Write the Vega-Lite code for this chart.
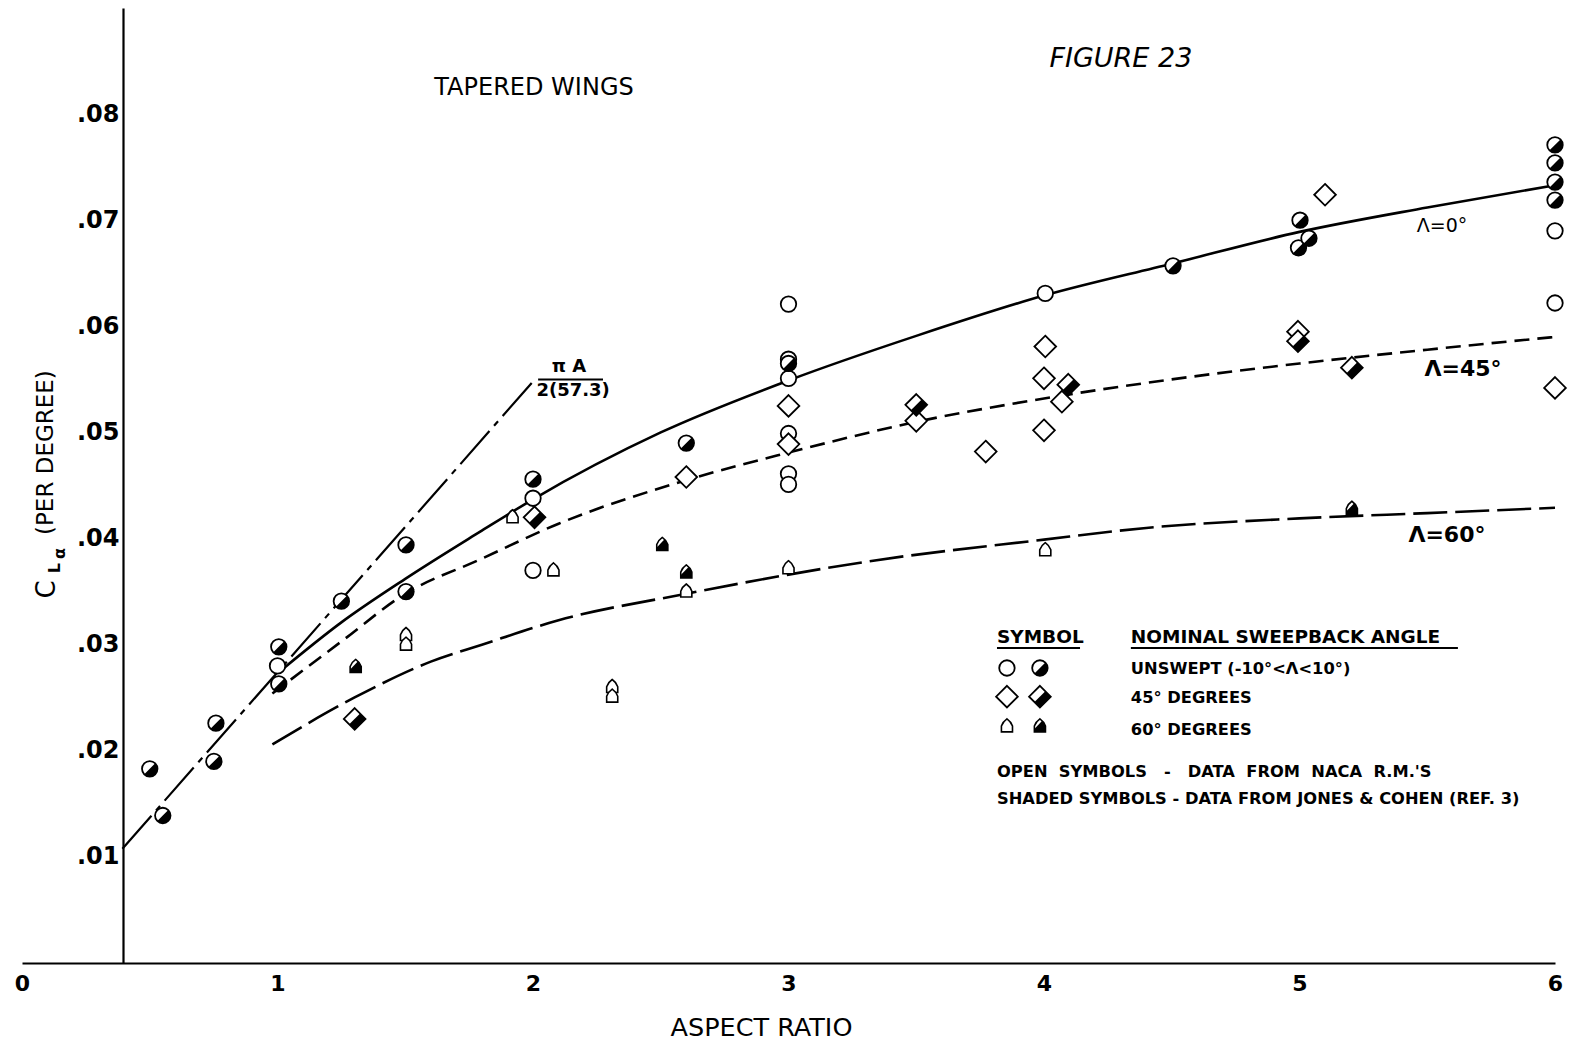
{
  "$schema": "https://vega.github.io/schema/vega-lite/v6.json",
  "width": 1533,
  "height": 955,
  "autosize": {"type": "none"},
  "padding": {"left": 22, "top": 8, "right": 21, "bottom": 80},
  "background": "white",
  "config": {"view": {"stroke": null}, "font": "DejaVu Sans"},
  "datasets": {
    "theory": [
      {"a": 0.393, "v": 0.01077},
      {"a": 2.0, "v": 0.0548}
    ],
    "curves": [
      {"curve": "L0", "a": 1.01, "v": 0.0275},
      {"curve": "L0", "a": 1.25, "v": 0.0321},
      {"curve": "L0", "a": 1.5, "v": 0.0362},
      {"curve": "L0", "a": 1.79, "v": 0.0406},
      {"curve": "L0", "a": 2.0, "v": 0.0437},
      {"curve": "L0", "a": 2.5, "v": 0.05},
      {"curve": "L0", "a": 3.0, "v": 0.0549},
      {"curve": "L0", "a": 3.5, "v": 0.0591},
      {"curve": "L0", "a": 4.0, "v": 0.0629},
      {"curve": "L0", "a": 4.5, "v": 0.0659},
      {"curve": "L0", "a": 5.0, "v": 0.0689},
      {"curve": "L0", "a": 5.5, "v": 0.0712},
      {"curve": "L0", "a": 6.0, "v": 0.0733},
      {"curve": "L45", "a": 0.98, "v": 0.0254},
      {"curve": "L45", "a": 1.25, "v": 0.0303},
      {"curve": "L45", "a": 1.5, "v": 0.0348},
      {"curve": "L45", "a": 1.79, "v": 0.038},
      {"curve": "L45", "a": 2.1, "v": 0.0414},
      {"curve": "L45", "a": 2.6, "v": 0.0455},
      {"curve": "L45", "a": 3.0, "v": 0.0481},
      {"curve": "L45", "a": 3.5, "v": 0.051},
      {"curve": "L45", "a": 4.0, "v": 0.0532},
      {"curve": "L45", "a": 4.5, "v": 0.055},
      {"curve": "L45", "a": 5.0, "v": 0.0565},
      {"curve": "L45", "a": 5.5, "v": 0.0578},
      {"curve": "L45", "a": 6.0, "v": 0.059},
      {"curve": "L60", "a": 0.98, "v": 0.0206},
      {"curve": "L60", "a": 1.3, "v": 0.025},
      {"curve": "L60", "a": 1.6, "v": 0.0284},
      {"curve": "L60", "a": 1.8, "v": 0.03},
      {"curve": "L60", "a": 2.1, "v": 0.0323},
      {"curve": "L60", "a": 2.6, "v": 0.0348},
      {"curve": "L60", "a": 3.0, "v": 0.0366},
      {"curve": "L60", "a": 3.3, "v": 0.0378},
      {"curve": "L60", "a": 4.0, "v": 0.0399},
      {"curve": "L60", "a": 4.4, "v": 0.041},
      {"curve": "L60", "a": 5.0, "v": 0.0419},
      {"curve": "L60", "a": 5.5, "v": 0.0424},
      {"curve": "L60", "a": 6.0, "v": 0.0429}
    ],
    "points": [
      {"kind": "circle", "src": "open", "a": 1.0, "v": 0.028},
      {"kind": "circle", "src": "open", "a": 2.0, "v": 0.0438},
      {"kind": "circle", "src": "open", "a": 2.0, "v": 0.037},
      {"kind": "circle", "src": "open", "a": 3.0, "v": 0.0621},
      {"kind": "circle", "src": "open", "a": 3.0, "v": 0.0569},
      {"kind": "circle", "src": "open", "a": 3.0, "v": 0.0551},
      {"kind": "circle", "src": "open", "a": 3.0, "v": 0.0499},
      {"kind": "circle", "src": "open", "a": 3.0, "v": 0.0461},
      {"kind": "circle", "src": "open", "a": 3.0, "v": 0.0451},
      {"kind": "circle", "src": "open", "a": 4.005, "v": 0.0631},
      {"kind": "circle", "src": "open", "a": 6.0, "v": 0.069},
      {"kind": "circle", "src": "open", "a": 6.0, "v": 0.0622},
      {"kind": "circle", "src": "shaded", "a": 0.5, "v": 0.0183},
      {"kind": "circle", "src": "shaded", "a": 0.551, "v": 0.0139},
      {"kind": "circle", "src": "shaded", "a": 0.759, "v": 0.0226},
      {"kind": "circle", "src": "shaded", "a": 0.751, "v": 0.019},
      {"kind": "circle", "src": "shaded", "a": 1.005, "v": 0.0298},
      {"kind": "circle", "src": "shaded", "a": 1.005, "v": 0.0263},
      {"kind": "circle", "src": "shaded", "a": 1.25, "v": 0.0341},
      {"kind": "circle", "src": "shaded", "a": 1.503, "v": 0.0394},
      {"kind": "circle", "src": "shaded", "a": 1.503, "v": 0.035},
      {"kind": "circle", "src": "shaded", "a": 2.0, "v": 0.0456},
      {"kind": "circle", "src": "shaded", "a": 2.6, "v": 0.049},
      {"kind": "circle", "src": "shaded", "a": 3.0, "v": 0.0565},
      {"kind": "circle", "src": "shaded", "a": 4.505, "v": 0.0657},
      {"kind": "circle", "src": "shaded", "a": 5.002, "v": 0.07},
      {"kind": "circle", "src": "shaded", "a": 4.996, "v": 0.0674},
      {"kind": "circle", "src": "shaded", "a": 5.037, "v": 0.0683},
      {"kind": "circle", "src": "shaded", "a": 6.0, "v": 0.0771},
      {"kind": "circle", "src": "shaded", "a": 6.0, "v": 0.0754},
      {"kind": "circle", "src": "shaded", "a": 6.0, "v": 0.0736},
      {"kind": "circle", "src": "shaded", "a": 6.0, "v": 0.0719},
      {"kind": "diamond", "src": "open", "a": 2.6, "v": 0.0458},
      {"kind": "diamond", "src": "open", "a": 3.0, "v": 0.0525},
      {"kind": "diamond", "src": "open", "a": 3.0, "v": 0.0489},
      {"kind": "diamond", "src": "open", "a": 3.5, "v": 0.0511},
      {"kind": "diamond", "src": "open", "a": 3.772, "v": 0.0482},
      {"kind": "diamond", "src": "open", "a": 4.005, "v": 0.0581},
      {"kind": "diamond", "src": "open", "a": 4.0, "v": 0.0551},
      {"kind": "diamond", "src": "open", "a": 4.07, "v": 0.0529},
      {"kind": "diamond", "src": "open", "a": 4.0, "v": 0.0502},
      {"kind": "diamond", "src": "open", "a": 4.994, "v": 0.0595},
      {"kind": "diamond", "src": "open", "a": 5.1, "v": 0.0724},
      {"kind": "diamond", "src": "open", "a": 6.0, "v": 0.0542},
      {"kind": "diamond", "src": "shaded", "a": 1.302, "v": 0.023},
      {"kind": "diamond", "src": "shaded", "a": 2.006, "v": 0.042},
      {"kind": "diamond", "src": "shaded", "a": 3.5, "v": 0.0526},
      {"kind": "diamond", "src": "shaded", "a": 4.095, "v": 0.0545},
      {"kind": "diamond", "src": "shaded", "a": 4.994, "v": 0.0586},
      {"kind": "diamond", "src": "shaded", "a": 5.205, "v": 0.0561},
      {"kind": "house", "src": "open", "a": 1.92, "v": 0.0421},
      {"kind": "house", "src": "open", "a": 2.08, "v": 0.0371},
      {"kind": "house", "src": "open", "a": 1.503, "v": 0.031},
      {"kind": "house", "src": "open", "a": 1.503, "v": 0.0301},
      {"kind": "house", "src": "open", "a": 2.6, "v": 0.0351},
      {"kind": "house", "src": "open", "a": 2.31, "v": 0.0261},
      {"kind": "house", "src": "open", "a": 2.31, "v": 0.0252},
      {"kind": "house", "src": "open", "a": 3.0, "v": 0.0373},
      {"kind": "house", "src": "open", "a": 4.005, "v": 0.039},
      {"kind": "house", "src": "shaded", "a": 1.306, "v": 0.028},
      {"kind": "house", "src": "shaded", "a": 2.506, "v": 0.0395},
      {"kind": "house", "src": "shaded", "a": 2.6, "v": 0.0369},
      {"kind": "house", "src": "shaded", "a": 5.205, "v": 0.0429},
      {"kind": "circle", "src": "open", "a": 3.855, "v": 0.0278},
      {"kind": "circle", "src": "shaded", "a": 3.984, "v": 0.0278},
      {"kind": "diamond", "src": "open", "a": 3.855, "v": 0.0251},
      {"kind": "diamond", "src": "shaded", "a": 3.984, "v": 0.0251},
      {"kind": "house", "src": "open", "a": 3.855, "v": 0.0224},
      {"kind": "house", "src": "shaded", "a": 3.984, "v": 0.0224}
    ],
    "rules": [
      {"a": 3.816, "a2": 4.141, "v": 0.02969},
      {"a": 4.34, "a2": 5.62, "v": 0.02969},
      {"a": 2.02, "a2": 2.274, "v": 0.055}
    ],
    "labels": [
      {"a": 4.301, "v": 0.0852, "text": "FIGURE 23", "role": "fig"},
      {"a": 2.004, "v": 0.0825, "text": "TAPERED WINGS", "role": "head"},
      {"a": 2.141, "v": 0.0562, "text": "π A", "role": "frac"},
      {"a": 2.157, "v": 0.0539, "text": "2(57.3)", "role": "frac"},
      {"a": 5.558, "v": 0.0695, "text": "Λ=0°", "role": "lam0"},
      {"a": 5.64, "v": 0.056, "text": "Λ=45°", "role": "lam"},
      {"a": 5.577, "v": 0.0403, "text": "Λ=60°", "role": "lam"},
      {"a": 3.816, "v": 0.0307, "text": "SYMBOL", "role": "keyhead"},
      {"a": 4.34, "v": 0.0307, "text": "NOMINAL SWEEPBACK ANGLE", "role": "keyhead"},
      {"a": 4.34, "v": 0.0277, "text": "UNSWEPT (-10°<Λ<10°)", "role": "key"},
      {"a": 4.34, "v": 0.025, "text": "45° DEGREES", "role": "key"},
      {"a": 4.34, "v": 0.022, "text": "60° DEGREES", "role": "key"},
      {"a": 3.816, "v": 0.018, "text": "OPEN\u00a0 SYMBOLS\u00a0\u00a0\u00a0-\u00a0\u00a0\u00a0DATA\u00a0 FROM\u00a0 NACA\u00a0 R.M.'S", "role": "key"},
      {"a": 3.816, "v": 0.01546, "text": "SHADED SYMBOLS - DATA FROM JONES & COHEN (REF. 3)", "role": "key"},
      {"a": 0.0978, "v": 0.0352, "text": "C", "role": "ytC"},
      {"a": 0.1292, "v": 0.0372, "text": "L", "role": "ytsub"},
      {"a": 0.1487, "v": 0.0386, "text": "α", "role": "ytsub"},
      {"a": 0.0939, "v": 0.0481, "text": "(PER DEGREE)", "role": "yt"}
    ]
  },
  "encoding": {
    "x": {
      "field": "a", "type": "quantitative",
      "scale": {"domain": [0, 6], "nice": false, "zero": false},
      "axis": {
        "values": [0, 1, 2, 3, 4, 5, 6], "format": "d",
        "ticks": false, "grid": false,
        "domainColor": "black", "domainWidth": 2.2,
        "labelFont": "DejaVu Sans", "labelFontSize": 22, "labelFontWeight": "bold", "labelColor": "black",
        "labelPadding": 10, "labelFlush": false, "labelOverlap": false, "labelBound": false,
        "title": "ASPECT RATIO", "titleFont": "DejaVu Sans", "titleFontSize": 25.5,
        "titleFontWeight": "normal", "titleColor": "black",
        "titleX": 739, "titleY": 64, "titleBaseline": "middle", "titleAlign": "center"
      }
    },
    "y": {
      "field": "v", "type": "quantitative",
      "scale": {"domain": [0, 0.09], "nice": false, "zero": false},
      "axis": {
        "values": [0.01, 0.02, 0.03, 0.04, 0.05, 0.06, 0.07, 0.08],
        "labelExpr": "replace(format(datum.value, '.2f'), '0.', '.')",
        "ticks": false, "grid": false, "offset": -101,
        "domainColor": "black", "domainWidth": 2.2,
        "labelFont": "DejaVu Sans", "labelFontSize": 24, "labelFontWeight": "bold", "labelColor": "black",
        "labelPadding": 4, "labelOverlap": false, "labelBound": false,
        "title": null
      }
    }
  },
  "layer": [
    {
      "data": {"name": "theory"},
      "mark": {"type": "line", "stroke": "black", "strokeWidth": 2.2, "strokeDash": [44, 7, 6, 7]},
      "encoding": {}
    },
    {
      "data": {"name": "curves"},
      "transform": [{"filter": "datum.curve == 'L0'"}],
      "mark": {"type": "line", "stroke": "black", "strokeWidth": 2.6, "interpolate": "monotone"},
      "encoding": {}
    },
    {
      "data": {"name": "curves"},
      "transform": [{"filter": "datum.curve == 'L45'"}],
      "mark": {"type": "line", "stroke": "black", "strokeWidth": 2.6, "interpolate": "monotone", "strokeDash": [15, 8]},
      "encoding": {}
    },
    {
      "data": {"name": "curves"},
      "transform": [{"filter": "datum.curve == 'L60'"}],
      "mark": {"type": "line", "stroke": "black", "strokeWidth": 2.6, "interpolate": "monotone", "strokeDash": [34, 8]},
      "encoding": {}
    },
    {
      "data": {"name": "rules"},
      "mark": {"type": "rule", "stroke": "black", "strokeWidth": 2},
      "encoding": {"x2": {"field": "a2"}}
    },
    {
      "data": {"name": "points"},
      "transform": [{"filter": "datum.kind == 'circle'"}],
      "mark": {"type": "point", "shape": "circle", "size": 240, "filled": true, "fill": "white", "stroke": "black", "strokeWidth": 1.8, "opacity": 1},
      "encoding": {}
    },
    {
      "data": {"name": "points"},
      "transform": [{"filter": "datum.kind == 'circle' && datum.src == 'shaded'"}],
      "mark": {"type": "point", "shape": "M-0.707,0.707Q-0.414,1,0,1Q0.414,1,0.707,0.707Q1,0.414,1,0Q1,-0.414,0.707,-0.707Z", "size": 240, "filled": true, "fill": "black", "strokeWidth": 0, "opacity": 1},
      "encoding": {}
    },
    {
      "data": {"name": "points"},
      "transform": [{"filter": "datum.kind == 'diamond'"}],
      "mark": {"type": "point", "shape": "M0,-1L1,0L0,1L-1,0Z", "size": 470, "filled": true, "fill": "white", "stroke": "black", "strokeWidth": 1.8, "opacity": 1},
      "encoding": {}
    },
    {
      "data": {"name": "points"},
      "transform": [{"filter": "datum.kind == 'diamond' && datum.src == 'shaded'"}],
      "mark": {"type": "point", "shape": "M0.5,-0.5L1,0L0,1L-0.5,0.5Z", "size": 470, "filled": true, "fill": "black", "strokeWidth": 0, "opacity": 1},
      "encoding": {}
    },
    {
      "data": {"name": "points"},
      "transform": [{"filter": "datum.kind == 'house'"}],
      "mark": {"type": "point", "shape": "M-0.85,1L-0.85,0.1Q-0.6,-0.6,0,-1Q0.6,-0.6,0.85,0.1L0.85,1Z", "size": 170, "filled": true, "fill": "white", "stroke": "black", "strokeWidth": 1.6, "opacity": 1},
      "encoding": {}
    },
    {
      "data": {"name": "points"},
      "transform": [{"filter": "datum.kind == 'house' && datum.src == 'shaded'"}],
      "mark": {"type": "point", "shape": "M-0.85,0.55L-0.85,1L0.85,1L0.85,0.1Q0.7,-0.35,0.35,-0.7Z", "size": 170, "filled": true, "fill": "black", "strokeWidth": 0, "opacity": 1},
      "encoding": {}
    },
    {
      "data": {"name": "labels"},
      "transform": [{"filter": "datum.role == 'fig'"}],
      "mark": {"type": "text", "font": "DejaVu Sans", "fontStyle": "italic", "fontSize": 27, "color": "black", "align": "center", "baseline": "middle"},
      "encoding": {"text": {"field": "text"}}
    },
    {
      "data": {"name": "labels"},
      "transform": [{"filter": "datum.role == 'head'"}],
      "mark": {"type": "text", "font": "DejaVu Sans", "fontSize": 24, "color": "black", "align": "center", "baseline": "middle"},
      "encoding": {"text": {"field": "text"}}
    },
    {
      "data": {"name": "labels"},
      "transform": [{"filter": "datum.role == 'frac'"}],
      "mark": {"type": "text", "font": "DejaVu Sans", "fontSize": 18, "fontWeight": "bold", "color": "black", "align": "center", "baseline": "middle"},
      "encoding": {"text": {"field": "text"}}
    },
    {
      "data": {"name": "labels"},
      "transform": [{"filter": "datum.role == 'lam'"}],
      "mark": {"type": "text", "font": "DejaVu Sans", "fontSize": 22, "fontWeight": "bold", "color": "black", "align": "center", "baseline": "middle"},
      "encoding": {"text": {"field": "text"}}
    },
    {
      "data": {"name": "labels"},
      "transform": [{"filter": "datum.role == 'lam0'"}],
      "mark": {"type": "text", "font": "DejaVu Sans", "fontSize": 19, "color": "black", "align": "center", "baseline": "middle"},
      "encoding": {"text": {"field": "text"}}
    },
    {
      "data": {"name": "labels"},
      "transform": [{"filter": "datum.role == 'keyhead'"}],
      "mark": {"type": "text", "font": "DejaVu Sans", "fontSize": 18.5, "fontWeight": "bold", "color": "black", "align": "left", "baseline": "middle"},
      "encoding": {"text": {"field": "text"}}
    },
    {
      "data": {"name": "labels"},
      "transform": [{"filter": "datum.role == 'key'"}],
      "mark": {"type": "text", "font": "DejaVu Sans", "fontSize": 16.3, "fontWeight": "bold", "color": "black", "align": "left", "baseline": "middle"},
      "encoding": {"text": {"field": "text"}}
    },
    {
      "data": {"name": "labels"},
      "transform": [{"filter": "datum.role == 'ytC'"}],
      "mark": {"type": "text", "font": "DejaVu Sans", "fontSize": 26, "color": "black", "align": "center", "baseline": "middle", "angle": 270},
      "encoding": {"text": {"field": "text"}}
    },
    {
      "data": {"name": "labels"},
      "transform": [{"filter": "datum.role == 'ytsub'"}],
      "mark": {"type": "text", "font": "DejaVu Sans", "fontSize": 16, "fontWeight": "bold", "color": "black", "align": "center", "baseline": "middle", "angle": 270},
      "encoding": {"text": {"field": "text"}}
    },
    {
      "data": {"name": "labels"},
      "transform": [{"filter": "datum.role == 'yt'"}],
      "mark": {"type": "text", "font": "DejaVu Sans", "fontSize": 23, "color": "black", "align": "center", "baseline": "middle", "angle": 270},
      "encoding": {"text": {"field": "text"}}
    }
  ]
}
